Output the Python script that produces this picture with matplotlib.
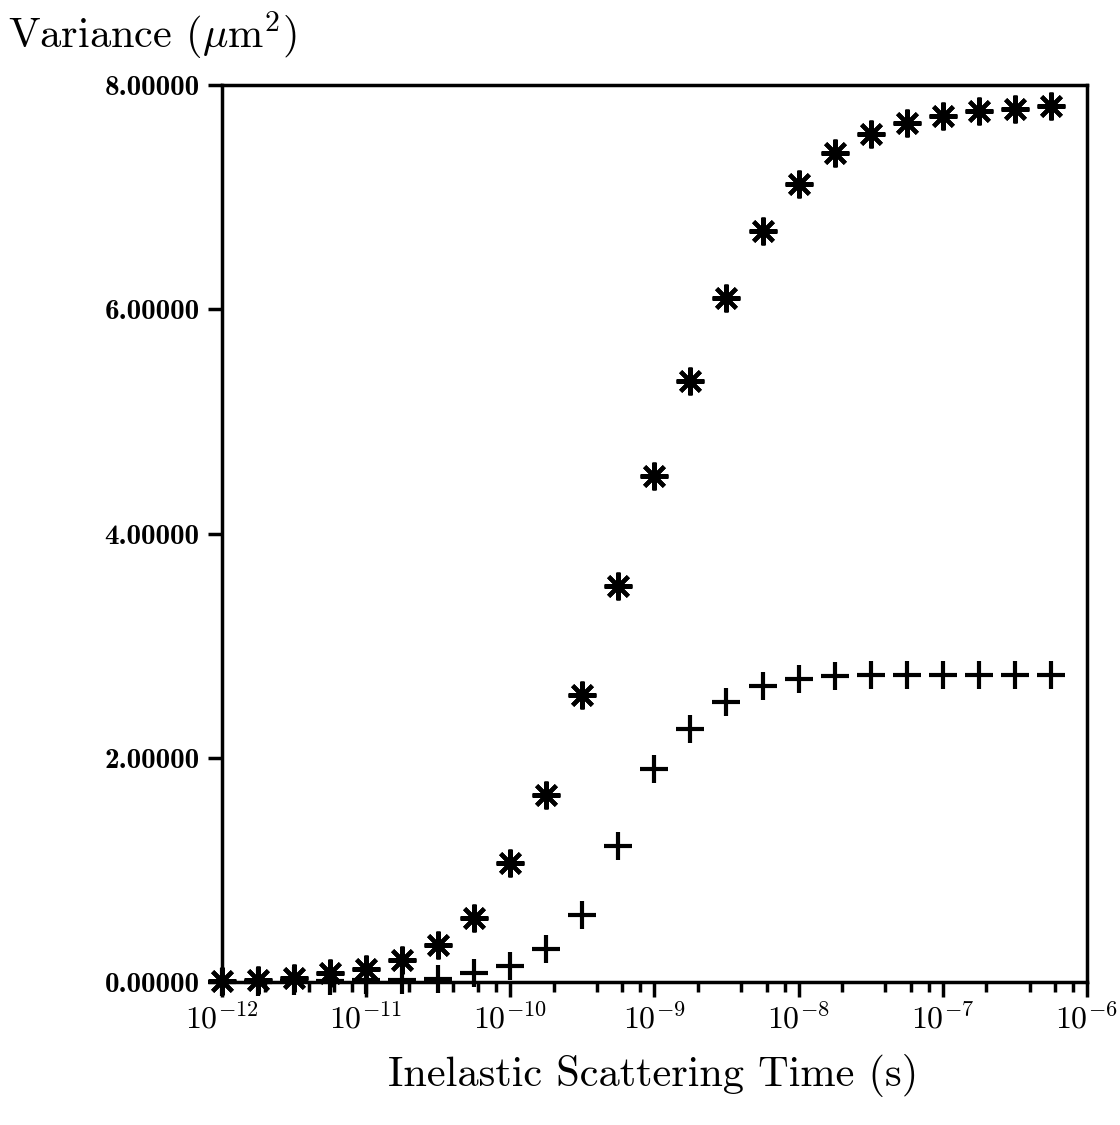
import numpy as np
import matplotlib
matplotlib.use('Agg')
import matplotlib.pyplot as plt
from matplotlib.ticker import LogLocator, FixedLocator, FixedFormatter

plt.rcParams['mathtext.fontset'] = 'cm'
plt.rcParams['font.family'] = 'serif'
plt.rcParams['font.serif'] = ['cmr10']
plt.rcParams['axes.formatter.use_mathtext'] = True

# inelastic scattering time, 4 points per decade: 1e-12 ... 5.6e-7
exponents = [-12.0, -11.75, -11.5, -11.25, -11.0, -10.75, -10.5, -10.25,
             -10.0, -9.75, -9.5, -9.25, -9.0, -8.75, -8.5, -8.25,
             -8.0, -7.75, -7.5, -7.25, -7.0, -6.75, -6.5, -6.25]
tau = [10 ** e for e in exponents]

# variance (um^2), asterisk series
var_star = [0.01, 0.02, 0.04, 0.08, 0.12, 0.20, 0.33, 0.57,
            1.06, 1.67, 2.56, 3.53, 4.51, 5.36, 6.10, 6.70,
            7.12, 7.39, 7.56, 7.66, 7.72, 7.77, 7.79, 7.81]
# variance (um^2), plus series
var_plus = [0.002, 0.004, 0.007, 0.01, 0.015, 0.02, 0.03, 0.08,
            0.14, 0.29, 0.60, 1.21, 1.90, 2.26, 2.50, 2.64,
            2.70, 2.73, 2.74, 2.74, 2.74, 2.74, 2.74, 2.74]

ytick_vals = [0, 2, 4, 6, 8]
ytick_labels = ['0.00000', '2.00000', '4.00000', '6.00000', '8.00000']

fig = plt.figure(figsize=(11.2, 11.25), dpi=100)
ax = fig.add_axes([0.198, 0.1271, 0.7725, 0.7973])

ax.plot(tau, var_star, linestyle='none', marker=(8, 2, 0), markersize=20,
        markeredgewidth=3.0, color='black', clip_on=False, zorder=3)
ax.plot(tau, var_plus, linestyle='none', marker='+', markersize=20,
        markeredgewidth=3.0, color='black', clip_on=False, zorder=3)

ax.set_xscale('log')
ax.set_xlim(1e-12, 1e-6)
ax.set_ylim(0, 8)

ax.xaxis.set_major_locator(LogLocator(base=10, numticks=10))
ax.xaxis.set_minor_locator(LogLocator(base=10, subs=[2, 4, 6, 8], numticks=20))
ax.yaxis.set_major_locator(FixedLocator(ytick_vals))
ax.yaxis.set_major_formatter(FixedFormatter(ytick_labels))
ax.yaxis.set_minor_locator(FixedLocator([]))

ax.tick_params(axis='x', which='major', direction='out', length=11, width=2.5,
               labelsize=23, pad=4)
ax.tick_params(axis='x', which='minor', direction='out', length=7, width=2.5)
ax.tick_params(axis='y', which='major', direction='out', length=10, width=2.5,
               labelsize=21, pad=6)
for lab in ax.get_yticklabels():
    lab.set_family('cmb10')

for sp in ax.spines.values():
    sp.set_linewidth(2.5)

fig.text(0.007, 0.969, r'Variance ($\mu\mathrm{m}^2$)', fontsize=30.5,
         ha='left', va='center')
fig.text(0.583, 0.044, 'Inelastic Scattering Time (s)', fontsize=30.5,
         ha='center', va='center')

fig.savefig('out.png', dpi=100)
